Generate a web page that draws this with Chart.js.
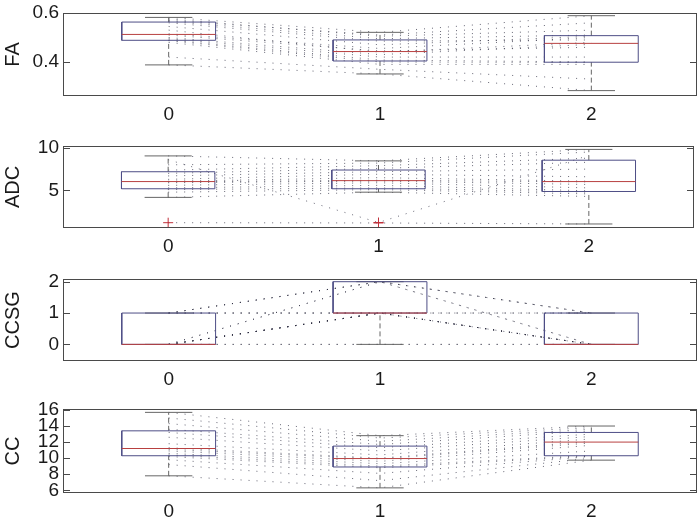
<!DOCTYPE html>
<html>
<head>
<meta charset="utf-8">
<script src="https://cdn.jsdelivr.net/npm/chart.js@4.4.1/dist/chart.umd.min.js"></script>
<style>
html, body { margin: 0; padding: 0; background: #fff; }
#wrap { position: relative; width: 700px; height: 524px; overflow: hidden; }
.panel { position: absolute; left: 0; width: 700px; }
</style>
</head>
<body>
<div id="wrap"></div>
<script>
// Group labels on the x axis
const groupLabels = ['0', '1', '2'];

// Per-subject values at each of the three groups
const faT0 = [0.582, 0.576, 0.57, 0.566, 0.56, 0.545, 0.53, 0.515, 0.51, 0.50, 0.495, 0.49, 0.487, 0.48, 0.42, 0.388];
const faT1 = [0.521, 0.505, 0.51, 0.495, 0.485, 0.47, 0.44, 0.455, 0.445, 0.43, 0.42, 0.408, 0.40, 0.39, 0.37, 0.351];
const faT2 = [0.589, 0.53, 0.56, 0.51, 0.49, 0.505, 0.48, 0.50, 0.46, 0.472, 0.42, 0.40, 0.398, 0.39, 0.33, 0.283];

const adcT0 = [9.04, 8.6, 8.0, 7.38, 7.0, 6.7, 6.3, 6.08, 6.0, 5.9, 5.6, 5.3, 5.1, 4.8, 4.19, 1.23];
const adcT1 = [8.46, 1.25, 8.2, 7.9, 7.58, 7.2, 6.9, 6.5, 6.2, 6.1, 5.9, 5.6, 5.3, 5.1, 4.8, 1.2];
const adcT2 = [9.8, 9.1, 9.5, 8.78, 8.3, 7.5, 6.6, 6.08, 6.0, 5.7, 5.3, 4.96, 4.8, 4.6, 4.3, 1.08];

const ccsgT0 = [0, 0, 0, 0, 0, 0, 0, 0, 0, 0, 1, 1, 1, 1, 1, 1];
const ccsgT1 = [0, 1, 1, 1, 1, 1, 2, 2, 0, 1, 2, 2, 1, 1, 1, 2];
const ccsgT2 = [0, 0, 0, 1, 0, 0, 1, 0, 0, 0, 0, 1, 0, 1, 1, 1];

const ccT0 = [15.7, 15.0, 14.3, 13.6, 13.2, 12.6, 11.8, 11.3, 11.1, 10.9, 10.6, 10.4, 10.2, 9.8, 9.2, 7.8];
const ccT1 = [12.8, 12.5, 12.1, 11.7, 11.3, 10.9, 10.4, 10.0, 9.9, 9.6, 9.3, 9.0, 8.8, 8.1, 7.2, 6.3];
const ccT2 = [14.0, 13.8, 13.6, 13.4, 13.0, 12.7, 12.4, 12.1, 11.9, 11.6, 10.9, 10.35, 10.25, 10.2, 10.0, 9.75];

// Tick values per panel
const faTicks = [0.4, 0.6];
const adcTicks = [5, 10];
const ccsgTicks = [0, 1, 2];
const ccTicks = [6, 8, 10, 12, 14, 16];

// Layout of the four stacked panels
const panels = [
    { name: 'FA',   groups: [faT0, faT1, faT2],       ticks: faTicks,   yMin: 0.261, yMax: 0.6,   top: 13,  height: 83 },
    { name: 'ADC',  groups: [adcT0, adcT1, adcT2],    ticks: adcTicks,  yMin: 0.61,  yMax: 10.2,  top: 146, height: 82 },
    { name: 'CCSG', groups: [ccsgT0, ccsgT1, ccsgT2], ticks: ccsgTicks, yMin: -0.53, yMax: 2.086, top: 279, height: 82 },
    { name: 'CC',   groups: [ccT0, ccT1, ccT2],       ticks: ccTicks,   yMin: 5.66,  yMax: 16.12, top: 409, height: 84 }
];

const PAD_TOP = 16;
const X_AXIS_H = 32;
const Y_AXIS_W = 63;
const RIGHT_PAD = 3;
const BOX_HALF = 0.222;
const CAP_HALF = 0.112;

const BOX_COLOR = '#4e4e86';
const MEDIAN_COLOR = '#b84040';
const WHISKER_COLOR = '#666';
const LINK_COLOR = 'rgba(40, 40, 60, 0.7)';
const TEXT_COLOR = '#1a1a1a';
const FONT = 'Liberation Sans, Arial, sans-serif';

// MATLAB style percentile + whisker limits
function boxStats(vals) {
    const s = [...vals].sort((a, b) => a - b);
    const n = s.length;
    const q = p => {
        const pos = p * n - 0.5;
        if (pos <= 0) return s[0];
        if (pos >= n - 1) return s[n - 1];
        const i = Math.floor(pos);
        return s[i] + (pos - i) * (s[i + 1] - s[i]);
    };
    const q1 = q(0.25), med = q(0.5), q3 = q(0.75);
    const iqr = q3 - q1;
    const loF = q1 - 1.5 * iqr - 1e-9, hiF = q3 + 1.5 * iqr + 1e-9;
    const inside = s.filter(v => v >= loF && v <= hiF);
    return { q1, med, q3, lo: inside[0], hi: inside[inside.length - 1], out: s.filter(v => v < loF || v > hiF) };
}

function seg(points, color, dash) {
    return {
        data: points, showLine: true, borderColor: color, borderWidth: 1,
        borderDash: dash || [], pointRadius: 0, fill: false, tension: 0
    };
}

// Frame + inward ticks (MATLAB axes look)
const framePlugin = {
    id: 'frame',
    afterDatasetsDraw(chart) {
        const { ctx, chartArea: a, scales } = chart;
        ctx.save();
        ctx.strokeStyle = '#4a4a4a';
        ctx.lineWidth = 1;
        ctx.strokeRect(Math.round(a.left) + 0.5, Math.round(a.top) + 0.5, Math.round(a.width) - 1, Math.round(a.height) - 1);
        ctx.beginPath();
        scales.y.ticks.forEach(t => {
            const y = Math.round(scales.y.getPixelForValue(t.value)) + 0.5;
            ctx.moveTo(a.left, y); ctx.lineTo(a.left + 7, y);
            ctx.moveTo(a.right - 7, y); ctx.lineTo(a.right, y);
        });
        ctx.stroke();
        ctx.restore();
    }
};

const wrap = document.getElementById('wrap');

panels.forEach(p => {
    const h = PAD_TOP + p.height + X_AXIS_H;
    const div = document.createElement('div');
    div.className = 'panel';
    div.style.top = (p.top - PAD_TOP) + 'px';
    div.style.height = h + 'px';
    const cv = document.createElement('canvas');
    cv.width = 700;
    cv.height = h;
    div.appendChild(cv);
    wrap.appendChild(div);

    const datasets = [];
    const outliers = [];
    p.groups.forEach((vals, g) => {
        const x = g + 1;
        const st = boxStats(vals);
        datasets.push(seg([{ x: x - BOX_HALF, y: st.med }, { x: x + BOX_HALF, y: st.med }], MEDIAN_COLOR));
        datasets.push(seg([
            { x: x - BOX_HALF, y: st.q1 }, { x: x + BOX_HALF, y: st.q1 },
            { x: x + BOX_HALF, y: st.q3 }, { x: x - BOX_HALF, y: st.q3 },
            { x: x - BOX_HALF, y: st.q1 }
        ], BOX_COLOR));
        datasets.push(seg([{ x: x - CAP_HALF, y: st.hi }, { x: x + CAP_HALF, y: st.hi }], WHISKER_COLOR));
        datasets.push(seg([{ x: x - CAP_HALF, y: st.lo }, { x: x + CAP_HALF, y: st.lo }], WHISKER_COLOR));
        datasets.push(seg([{ x: x, y: st.q3 }, { x: x, y: st.hi }], WHISKER_COLOR, [5, 3]));
        datasets.push(seg([{ x: x, y: st.lo }, { x: x, y: st.q1 }], WHISKER_COLOR, [5, 3]));
        st.out.forEach(v => outliers.push({ x: x, y: v }));
    });
    datasets.unshift({
        data: outliers, showLine: false, pointStyle: 'cross', pointRadius: 5,
        borderColor: '#c0303a', borderWidth: 1
    });

    // subject lines linking the three groups
    p.groups[0].forEach((v, i) => {
        datasets.push(seg(p.groups.map((gv, g) => ({ x: g + 1, y: gv[i] })), LINK_COLOR, [1, 7]));
    });

    new Chart(cv, {
        type: 'scatter',
        data: { datasets },
        options: {
            responsive: false,
            devicePixelRatio: 1,
            animation: false,
            events: [],
            layout: { padding: { top: PAD_TOP, right: RIGHT_PAD, left: 0, bottom: 0 } },
            plugins: { legend: { display: false }, tooltip: { enabled: false } },
            scales: {
                x: {
                    type: 'linear', min: 0.5, max: 3.5,
                    afterBuildTicks: s => { s.ticks = groupLabels.map((l, i) => ({ value: i + 1 })); },
                    afterFit: s => { s.height = X_AXIS_H; },
                    grid: { display: false, drawTicks: false },
                    border: { display: false },
                    ticks: {
                        color: TEXT_COLOR, padding: 7, autoSkip: false, maxRotation: 0,
                        font: { family: FONT, size: 19 },
                        callback: v => groupLabels[Math.round(v) - 1]
                    }
                },
                y: {
                    type: 'linear', min: p.yMin, max: p.yMax,
                    afterBuildTicks: s => { s.ticks = p.ticks.map(v => ({ value: v })); },
                    afterFit: s => { s.width = Y_AXIS_W; },
                    grid: { display: false, drawTicks: false },
                    border: { display: false },
                    ticks: {
                        color: TEXT_COLOR, padding: 4, autoSkip: false,
                        font: { family: FONT, size: 19 },
                        callback: v => String(v)
                    },
                    title: {
                        display: true, text: p.name, color: TEXT_COLOR,
                        font: { family: FONT, size: 20 }, padding: { top: 1, bottom: 0 }
                    }
                }
            }
        },
        plugins: [framePlugin]
    });
});
</script>
</body>
</html>
